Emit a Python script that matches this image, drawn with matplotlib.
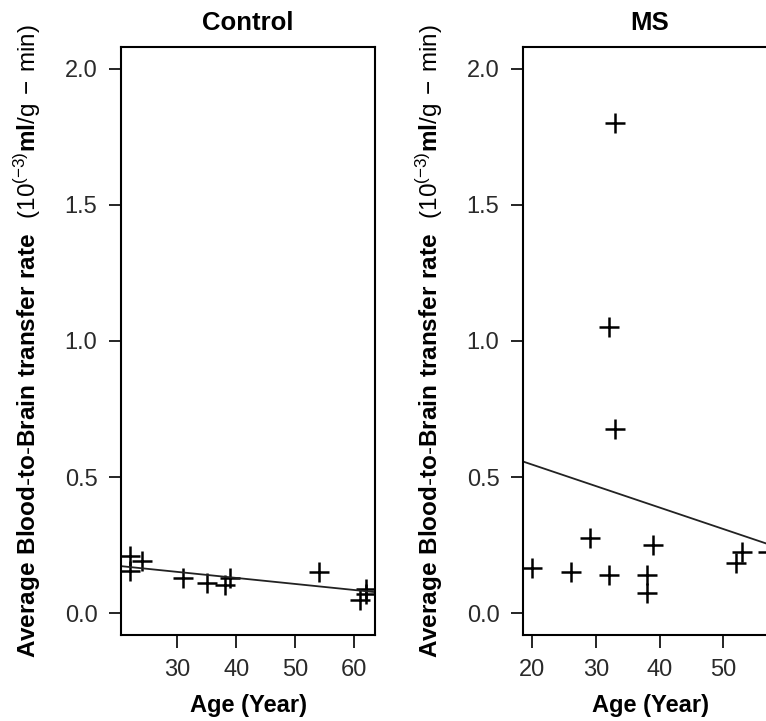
import numpy as np
import matplotlib
matplotlib.use('Agg')
import matplotlib.pyplot as plt

plt.rcParams['font.family'] = ['Liberation Sans', 'DejaVu Sans']
plt.rcParams['mathtext.fontset'] = 'custom'
plt.rcParams['mathtext.rm'] = 'Liberation Sans'
plt.rcParams['mathtext.bf'] = 'Liberation Sans:bold'

# Control group: age vs rate
ctrl_age = [22, 22, 24, 31, 35, 38, 39, 54, 61, 62, 62]
ctrl_rate = [0.21, 0.155, 0.19, 0.13, 0.11, 0.105, 0.13, 0.15, 0.05, 0.09, 0.07]
ctrl_fit = (0.218, -0.00221)   # intercept, slope

# MS group
ms_age = [20, 26, 29, 32, 32, 33, 33, 38, 38, 39, 52, 53, 57]
ms_rate = [0.165, 0.15, 0.275, 0.14, 1.05, 1.80, 0.675, 0.14, 0.075, 0.25, 0.185, 0.225, 0.225]
ms_fit = (0.703, -0.00787)

titles = ['Control', 'MS']
x_ticks = [[30, 40, 50, 60], [20, 30, 40, 50]]
y_ticks = [0.0, 0.5, 1.0, 1.5, 2.0]

ylab = (r'$\mathbf{Average\ Blood}$-$\mathbf{to}$-$\mathbf{Brain\ transfer\ rate}$'
        r'$\ \ (10^{(-3)}\mathbf{ml}/\mathrm{g}\,-\,\mathrm{min})$')

fig = plt.figure(figsize=(7.66, 7.21), dpi=100)
axes = [fig.add_axes([0.158, 0.1193, 0.3316, 0.8155]),
        fig.add_axes([0.6828, 0.1193, 0.3316, 0.8155])]

groups = [(ctrl_age, ctrl_rate, ctrl_fit), (ms_age, ms_rate, ms_fit)]
for i, ax in enumerate(axes):
    age, rate, fit = groups[i]
    ax.plot(age, rate, linestyle='none', marker='+', markersize=15,
            markeredgewidth=1.8, color='black')
    ax.axline((0, fit[0]), slope=fit[1], color='#222222', linewidth=1.3)
    pad = 0.04 * (max(age) - min(age))
    ax.set_xlim(min(age) - pad, max(age) + pad)
    ax.set_ylim(-0.08, 2.08)
    ax.set_xticks(x_ticks[i])
    ax.set_yticks(y_ticks)
    ax.set_yticklabels(['%.1f' % v for v in y_ticks])
    ax.tick_params(length=9, width=1.2, labelsize=17, pad=8,
                   labelcolor='#2a2a2a')
    for sp in ax.spines.values():
        sp.set_linewidth(1.5)
    ax.set_title(titles[i], fontsize=18.5, fontweight='bold', pad=12)
    ax.set_xlabel('Age (Year)', fontsize=17, fontweight='bold')
    ax.xaxis.set_label_coords(0.5, -0.100)
    ax.set_ylabel(ylab, fontsize=17.5)
    ax.yaxis.set_label_coords(-0.307, 0.5)

fig.savefig('out.png', dpi=100)
